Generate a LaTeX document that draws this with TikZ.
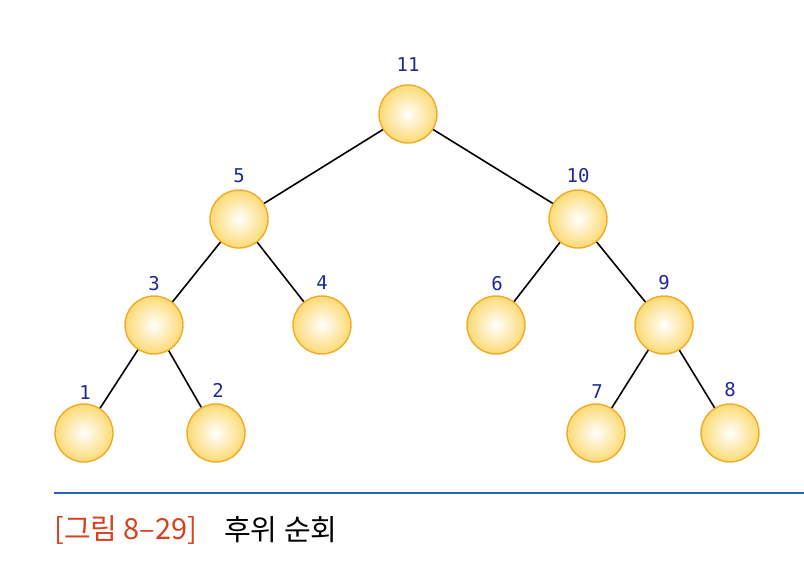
\documentclass[tikz,border=0pt]{standalone}
\usepackage{fontspec}
\newfontfamily\cjk{Noto Sans CJK KR}
\newfontfamily\monof{DejaVu Sans Mono}
\definecolor{lblblue}{RGB}{30,40,150}
\definecolor{ringc}{RGB}{240,170,40}
\definecolor{fillout}{RGB}{252,218,115}
\definecolor{capred}{RGB}{215,65,30}
\definecolor{rulec}{RGB}{40,100,175}
\begin{document}
\begin{tikzpicture}[x=1pt,y=-1pt,
  vtx/.style={circle,minimum size=58pt,inner sep=0pt,draw=ringc,line width=1.4pt,
    inner color=white,outer color=fillout},
  lbl/.style={font=\monof\fontsize{19}{19}\selectfont,text=lblblue,inner sep=0pt},
  edge/.style={line width=1.6pt,black}]
\useasboundingbox (0,0) rectangle (804,562);
\node[vtx] (n11) at (408,114) {};
\node[vtx] (n5) at (239,219) {};
\node[vtx] (n10) at (578,219) {};
\node[vtx] (n3) at (154,325) {};
\node[vtx] (n4) at (322,325) {};
\node[vtx] (n6) at (496,325) {};
\node[vtx] (n9) at (664,325) {};
\node[vtx] (n1) at (84,433) {};
\node[vtx] (n2) at (216,433) {};
\node[vtx] (n7) at (596,433) {};
\node[vtx] (n8) at (730,433) {};
\draw[edge] (n11) -- (n5);
\draw[edge] (n11) -- (n10);
\draw[edge] (n5) -- (n3);
\draw[edge] (n5) -- (n4);
\draw[edge] (n10) -- (n6);
\draw[edge] (n10) -- (n9);
\draw[edge] (n3) -- (n1);
\draw[edge] (n3) -- (n2);
\draw[edge] (n9) -- (n7);
\draw[edge] (n9) -- (n8);
\node[lbl] (l11) at (408,65) {11};
\node[lbl] (l5) at (239,176) {5};
\node[lbl] (l10) at (578,176) {10};
\node[lbl] (l3) at (154,284) {3};
\node[lbl] (l4) at (322,283) {4};
\node[lbl] (l6) at (497,284) {6};
\node[lbl] (l9) at (664,283) {9};
\node[lbl] (l1) at (85,393) {1};
\node[lbl] (l2) at (218,390) {2};
\node[lbl] (l7) at (597,392) {7};
\node[lbl] (l8) at (730,390) {8};
\coordinate (r1) at (54,493);
\coordinate (r2) at (804,493);
\draw[rulec,line width=1.2pt] (r1) -- (r2);
\node[anchor=west,inner sep=0pt,font=\cjk\fontsize{29}{29}\selectfont,text=capred] (cap1) at (54,530) {[그림 8–29]};
\node[anchor=west,inner sep=0pt,font=\cjk\fontsize{29}{29}\selectfont] (cap2) at (224,530) {후위 순회};
\end{tikzpicture}
\end{document}
